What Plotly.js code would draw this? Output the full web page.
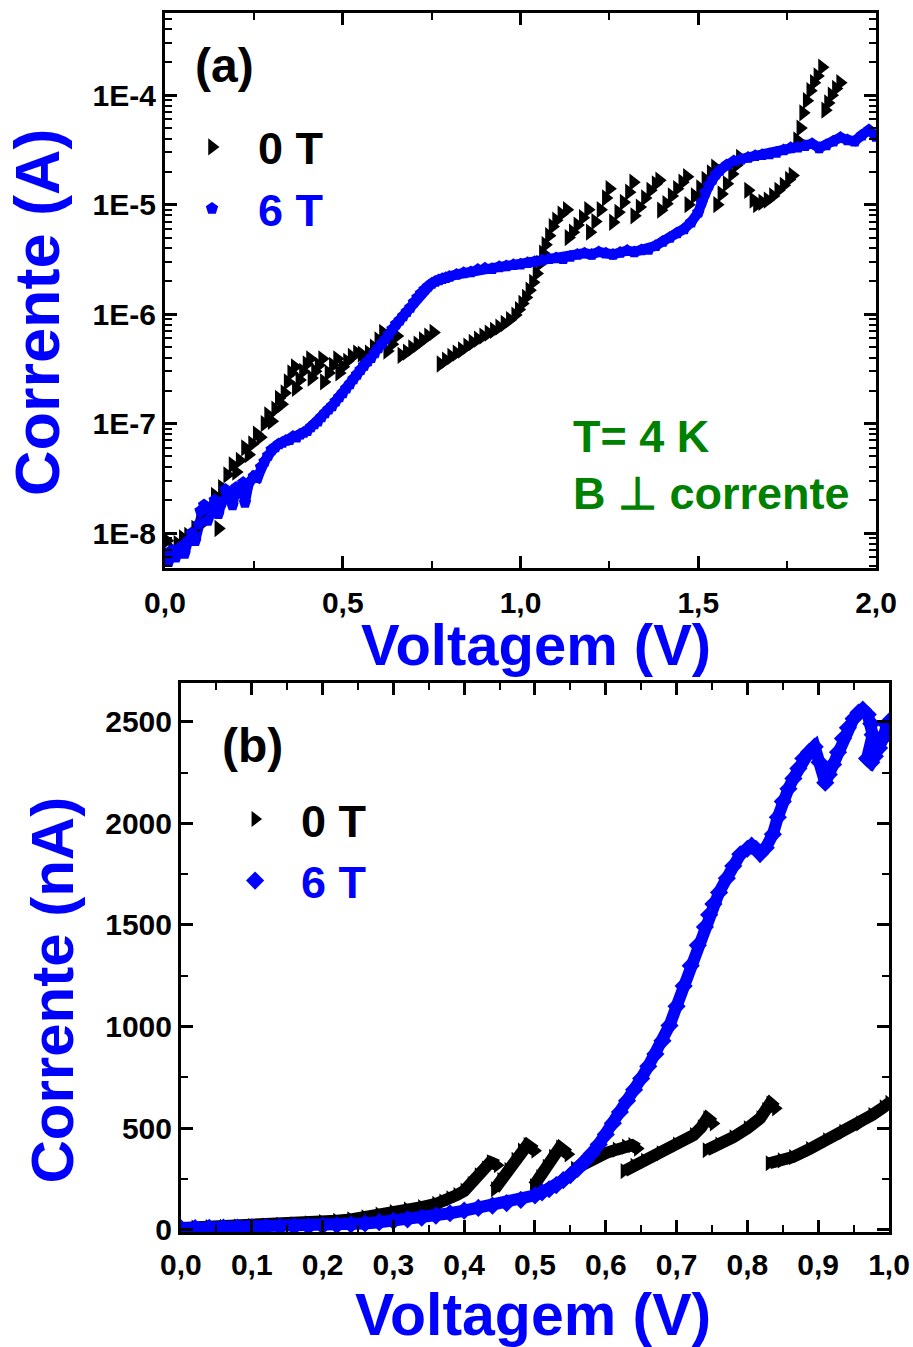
<!DOCTYPE html>
<html>
<head>
<meta charset="utf-8">
<script src="https://cdn.plot.ly/plotly-3.0.1.min.js"></script>
<style>html,body{margin:0;padding:0;background:#fff;}#chart{width:913px;height:1347px;}</style>
</head>
<body>
<div id="chart"></div>
<script>
// ---------- DATA (voltage V, current) ----------
const seriesNames = ['0 T', '6 T'];
const panelLabels = ['(a)', '(b)'];
const xTitle = 'Voltagem (V)';
const yTitleA = 'Corrente (A)';
const yTitleB = 'Corrente (nA)';
const tempLabel = 'T= 4 K';
const fieldLabel = 'B \u22A5 corrente';
const logTickVals = [1e-8, 1e-7, 1e-6, 1e-5, 1e-4];
const logTickText = ['1E-8', '1E-7', '1E-6', '1E-5', '1E-4'];

// Panel (a): current in A, log scale
const pointsA_0T = [
 [0.005,8.5e-9],[0.02,7e-9],[0.035,8e-9],[0.05,9e-9],[0.065,9.5e-9],[0.085,1.1e-8],[0.1,1.2e-8],[0.115,1.3e-8],
 [0.128,1.6e-8],[0.14,2.2e-8],[0.15,1.1e-8],[0.16,2.6e-8],[0.175,3.4e-8],[0.19,4.2e-8],[0.2,3.6e-8],[0.21,4.6e-8],
 [0.225,6e-8],[0.235,5.2e-8],[0.245,6.5e-8],[0.258,8e-8],[0.268,7.5e-8],[0.28,1.0e-7],[0.29,1.2e-7],[0.3,1.05e-7],
 [0.31,1.35e-7],[0.32,1.7e-7],[0.328,1.5e-7],[0.336,1.9e-7],[0.345,2.4e-7],[0.355,2.9e-7],[0.365,3.3e-7],
 [0.368,2.1e-7],[0.378,2.5e-7],[0.388,3.0e-7],[0.398,3.5e-7],[0.408,3.9e-7],
 [0.412,2.6e-7],[0.422,3.0e-7],[0.432,3.4e-7],[0.442,3.9e-7],
 [0.447,2.4e-7],[0.46,2.9e-7],[0.472,3.4e-7],[0.484,3.9e-7],
 [0.49,2.9e-7],[0.5,3.3e-7],[0.512,3.7e-7],[0.525,4.1e-7],[0.54,4.4e-7],[0.553,4.3e-7],
 [0.56,3.8e-7],[0.573,4.4e-7],[0.587,5.0e-7],[0.6,5.8e-7],[0.613,6.8e-7],
 [0.625,4.6e-7],[0.638,5.3e-7],[0.652,6.3e-7],
 [0.665,4.2e-7],[0.68,4.5e-7],[0.695,4.9e-7],[0.71,5.3e-7],[0.725,5.8e-7],[0.74,6.3e-7],[0.755,6.8e-7],
 [0.775,3.5e-7],[0.79,3.8e-7],[0.805,4.1e-7],[0.82,4.4e-7],[0.835,4.7e-7],[0.85,5.1e-7],[0.865,5.5e-7],
 [0.88,5.9e-7],[0.895,6.3e-7],[0.91,6.7e-7],[0.925,7.1e-7],[0.94,7.6e-7],[0.955,8.2e-7],[0.97,8.9e-7],
 [0.985,9.8e-7],[0.995,1.1e-6],[1.005,1.25e-6],[1.015,1.42e-6],[1.025,1.65e-6],[1.035,1.95e-6],[1.045,2.35e-6],
 [1.055,2.9e-6],[1.063,3.6e-6],[1.07,4.3e-6],[1.08,5.2e-6],[1.09,6.3e-6],[1.1,7.2e-6],[1.115,8.2e-6],[1.13,9.0e-6],
 [1.135,5.0e-6],[1.147,5.6e-6],[1.16,6.5e-6],[1.175,7.6e-6],[1.19,9.0e-6],
 [1.195,5.6e-6],[1.21,7.0e-6],[1.225,9.0e-6],[1.24,1.15e-5],[1.25,1.4e-5],
 [1.26,6.9e-6],[1.275,8.5e-6],[1.29,1.05e-5],[1.305,1.3e-5],[1.317,1.6e-5],
 [1.32,7.9e-6],[1.335,9.5e-6],[1.35,1.15e-5],[1.365,1.35e-5],[1.38,1.55e-5],[1.39,1.67e-5],
 [1.395,8.9e-6],[1.41,1.02e-5],[1.425,1.2e-5],[1.44,1.4e-5],[1.455,1.6e-5],[1.468,1.8e-5],
 [1.472,1.0e-5],[1.49,1.2e-5],[1.505,1.42e-5],[1.52,1.7e-5],[1.535,1.95e-5],[1.547,2.2e-5],
 [1.553,1.0e-5],[1.565,1.25e-5],[1.58,1.55e-5],[1.595,1.9e-5],[1.607,2.3e-5],[1.617,2.7e-5],
 [1.64,1.35e-5],[1.655,1.1e-5],[1.665,1.0e-5],[1.68,1.05e-5],[1.695,1.1e-5],[1.71,1.2e-5],[1.725,1.35e-5],
 [1.74,1.5e-5],[1.755,1.7e-5],[1.765,1.85e-5],[1.778,3.9e-5],[1.787,5.0e-5],[1.795,6.9e-5],[1.805,8.9e-5],
 [1.815,1.1e-4],[1.825,1.3e-4],[1.835,1.5e-4],[1.848,1.8e-4],
 [1.857,7.3e-5],[1.865,8.5e-5],[1.875,1.0e-4],[1.887,1.15e-4],[1.899,1.3e-4]
];

const pointsA_6T = [
 [0.0,6.5e-9],[0.01,5.5e-9],[0.02,7e-9],[0.03,6e-9],[0.045,7.5e-9],[0.055,6.5e-9],[0.065,8.5e-9],[0.075,1.0e-8],
 [0.085,8.5e-9],[0.095,1.2e-8],[0.1,1.6e-8],[0.11,1.8e-8],[0.12,1.3e-8],[0.13,1.6e-8],[0.14,2.0e-8],[0.15,1.5e-8],
 [0.16,1.9e-8],[0.17,2.5e-8],[0.18,2.2e-8],[0.19,1.8e-8],[0.2,2.6e-8],[0.21,2.3e-8],[0.22,2.9e-8],[0.225,1.9e-8],
 [0.235,2.8e-8],[0.25,3.3e-8],[0.26,3.2e-8],[0.27,4.0e-8],[0.28,4.5e-8],[0.29,5.1e-8],[0.3,5.8e-8],[0.31,6.1e-8],
 [0.32,6.5e-8],[0.33,6.7e-8],[0.34,7.0e-8],[0.35,7.1e-8],[0.36,7.6e-8],[0.37,7.5e-8],[0.38,8.0e-8],[0.39,8.3e-8],
 [0.4,8.6e-8],[0.41,9.3e-8],[0.42,9.9e-8],[0.43,1.05e-7],[0.44,1.15e-7],[0.45,1.25e-7],[0.46,1.35e-7],[0.47,1.45e-7],
 [0.48,1.6e-7],[0.49,1.75e-7],[0.5,1.9e-7],[0.51,2.1e-7],[0.52,2.3e-7],[0.53,2.55e-7],[0.54,2.8e-7],[0.55,3.1e-7],
 [0.56,3.4e-7],[0.57,3.7e-7],[0.58,4.0e-7],[0.59,4.4e-7],[0.6,4.9e-7],[0.61,5.4e-7],[0.62,5.9e-7],[0.63,6.5e-7],
 [0.64,7.3e-7],[0.65,8.1e-7],[0.66,8.8e-7],[0.67,9.6e-7],[0.68,1.05e-6],[0.69,1.15e-6],[0.7,1.28e-6],[0.71,1.42e-6],
 [0.72,1.55e-6],[0.73,1.68e-6],[0.74,1.8e-6],[0.75,1.9e-6],[0.76,1.98e-6],[0.77,2.05e-6],[0.78,2.1e-6],[0.79,2.15e-6],
 [0.8,2.2e-6],[0.82,2.3e-6],[0.84,2.38e-6],[0.86,2.42e-6],[0.88,2.55e-6],[0.9,2.62e-6],[0.92,2.6e-6],[0.94,2.7e-6],
 [0.96,2.75e-6],[0.98,2.82e-6],[1.0,2.85e-6],[1.02,2.95e-6],[1.04,3.0e-6],[1.06,3.1e-6],[1.08,3.2e-6],[1.1,3.25e-6],
 [1.12,3.2e-6],[1.14,3.35e-6],[1.16,3.5e-6],[1.18,3.6e-6],[1.2,3.5e-6],[1.22,3.7e-6],[1.24,3.6e-6],[1.26,3.5e-6],
 [1.28,3.65e-6],[1.3,3.8e-6],[1.32,3.7e-6],[1.34,3.85e-6],[1.36,3.9e-6],[1.38,4.2e-6],[1.4,4.6e-6],[1.42,5.0e-6],
 [1.44,5.5e-6],[1.46,6.0e-6],[1.48,6.9e-6],[1.5,8.5e-6],[1.51,1.05e-5],[1.52,1.3e-5],[1.53,1.5e-5],[1.54,1.7e-5],
 [1.55,1.9e-5],[1.56,2.05e-5],[1.58,2.3e-5],[1.6,2.5e-5],[1.62,2.6e-5],[1.64,2.7e-5],[1.66,2.8e-5],[1.68,2.85e-5],
 [1.7,2.9e-5],[1.72,3.0e-5],[1.74,3.15e-5],[1.76,3.3e-5],[1.78,3.35e-5],[1.8,3.45e-5],[1.82,3.6e-5],[1.84,3.3e-5],
 [1.86,3.5e-5],[1.88,3.8e-5],[1.9,4.1e-5],[1.92,3.9e-5],[1.94,3.8e-5],[1.96,4.3e-5],[1.98,4.8e-5],[2.0,4.2e-5]
];

// Panel (b): current in nA, linear scale (null = break between sawtooth branches)
const pointsB_0T = [
 [0.0,10],[0.02,12],[0.04,14],[0.06,15],[0.08,17],[0.1,19],[0.12,22],[0.14,25],[0.16,28],[0.18,32],[0.2,38],
 [0.22,45],[0.24,52],[0.26,62],[0.28,75],[0.3,88],[0.32,100],[0.34,112],[0.36,128],[0.37,140],[0.38,155],
 [0.39,172],[0.4,192],[0.41,225],[0.42,268],[0.43,302],[0.437,333],[0.447,318],
 [null,null],
 [0.443,200],[0.452,245],[0.462,295],[0.472,345],[0.481,390],[0.489,417],[0.5,390],
 [null,null],
 [0.498,215],[0.507,260],[0.516,310],[0.525,360],[0.535,405],[0.547,372],
 [null,null],
 [0.556,300],[0.57,330],[0.585,355],[0.6,378],[0.615,395],[0.628,410],[0.637,417],[0.645,400],
 [null,null],
 [0.626,289],[0.64,315],[0.655,340],[0.677,377],[0.7,420],[0.724,466],[0.735,505],[0.743,549],[0.752,524],
 [null,null],
 [0.742,392],[0.76,420],[0.78,456],[0.8,500],[0.818,549],[0.826,590],[0.832,622],[0.84,598],
 [null,null],
 [0.831,328],[0.848,342],[0.864,358],[0.888,398],[0.912,441],[0.935,482],[0.959,524],[0.976,565],[0.992,603],[1.0,625]
];

const pointsB_6T = [
 [0.0,8],[0.02,9],[0.04,10],[0.06,11],[0.08,12],[0.1,13],[0.12,14],[0.14,15],[0.16,16],[0.18,17],[0.2,20],
 [0.22,23],[0.24,27],[0.26,32],[0.28,38],[0.3,45],[0.32,52],[0.34,60],[0.36,70],[0.38,82],[0.4,95],[0.42,108],
 [0.44,120],[0.46,132],[0.48,148],[0.5,170],[0.51,185],[0.52,200],[0.53,220],[0.54,245],[0.55,270],[0.56,300],
 [0.57,335],[0.58,375],[0.59,420],[0.6,470],[0.61,525],[0.62,580],[0.63,635],[0.64,690],[0.65,745],[0.66,805],
 [0.67,865],[0.68,930],[0.69,1005],[0.7,1100],[0.71,1200],[0.72,1300],[0.73,1400],[0.74,1490],[0.746,1550],
 [0.752,1603],[0.76,1660],[0.771,1730],[0.78,1790],[0.79,1848],[0.8,1875],[0.806,1890],[0.812,1875],[0.818,1850],
 [0.826,1880],[0.836,1946],[0.843,2030],[0.85,2108],[0.858,2170],[0.865,2221],[0.872,2270],[0.879,2319],
 [0.887,2350],[0.895,2377],[0.902,2300],[0.91,2200],[0.915,2240],[0.921,2289],[0.928,2350],[0.935,2417],
 [0.942,2470],[0.95,2515],[0.957,2545],[0.963,2559],[0.97,2535],[0.975,2490],[0.977,2436],[0.969,2319],
 [0.975,2300],[0.98,2330],[0.986,2370],[0.992,2420],[0.997,2485],[1.0,2500]
];

// ---------- helpers ----------
const xs = p => p.map(d => d[0]);
const ys = p => p.map(d => d[1]);

const FONT = 'Arial, "Liberation Sans", sans-serif';
const BLUE = '#0000FF';
const GREEN = '#008000';

const minorLog = [];
for (let d = -9; d <= -4; d++) for (let k = 2; k <= 9; k++) minorLog.push(k * Math.pow(10, d));

const traces = [
 // panel (a)
 {x: xs(pointsA_6T), y: ys(pointsA_6T), xaxis:'x', yaxis:'y', mode:'lines', line:{color:BLUE, width:10},
  showlegend:false, hoverinfo:'skip'},
 {x: xs(pointsA_0T), y: ys(pointsA_0T), xaxis:'x', yaxis:'y', mode:'markers', name: seriesNames[0],
  legend:'legend', marker:{symbol:'triangle-right', size:15, color:'#000'}},
 {x: xs(pointsA_6T), y: ys(pointsA_6T), xaxis:'x', yaxis:'y', mode:'markers',
  name: '<span style="color:' + BLUE + '">' + seriesNames[1] + '</span>',
  legend:'legend', marker:{symbol:'pentagon', size:13, color:BLUE}},
 // panel (b)
 {x: xs(pointsB_0T), y: ys(pointsB_0T), xaxis:'x2', yaxis:'y2', mode:'lines', line:{color:'#000', width:12},
  connectgaps:false, showlegend:false, hoverinfo:'skip'},
 {x: xs(pointsB_0T), y: ys(pointsB_0T), xaxis:'x2', yaxis:'y2', mode:'markers', name: seriesNames[0],
  legend:'legend2', marker:{symbol:'triangle-right', size:14, color:'#000'}},
 {x: xs(pointsB_6T), y: ys(pointsB_6T), xaxis:'x2', yaxis:'y2', mode:'lines', line:{color:BLUE, width:12},
  showlegend:false, hoverinfo:'skip'},
 {x: xs(pointsB_6T), y: ys(pointsB_6T), xaxis:'x2', yaxis:'y2', mode:'markers',
  name: '<span style="color:' + BLUE + '">' + seriesNames[1] + '</span>',
  legend:'legend2', marker:{symbol:'diamond', size:14, color:BLUE}}
];

const tickFont = {family: FONT, size: 30, color:'#000', weight:'bold'};
const axisCommon = {
 showline:true, linewidth:3, linecolor:'#000', mirror:'ticks', ticks:'inside', ticklen:12, tickwidth:3,
 tickcolor:'#000', showgrid:false, zeroline:false, tickfont: tickFont, fixedrange:true
};
const ann = (text, x, y, size, color, extra) => Object.assign({
  text: text, xref:'paper', yref:'paper', x: x, y: y, xanchor:'center', yanchor:'middle', showarrow:false,
  font:{family:FONT, size:size, color:color, weight:'bold'}
}, extra || {});

const layout = {
 width: 913, height: 1347,
 margin: {l:0, r:0, t:0, b:0},
 paper_bgcolor:'#fff', plot_bgcolor:'#fff',
 separators: ',.',
 showlegend: true,
 xaxis: Object.assign({}, axisCommon, {
  domain:[0.1807, 0.9595], anchor:'y', range:[0, 2], dtick:0.5, tick0:0, tickformat:'.1f', ticklabelstandoff:6,
  minor:{dtick:0.25, ticks:'inside', ticklen:7, tickwidth:2, tickcolor:'#000'}
 }),
 yaxis: Object.assign({}, axisCommon, {
  domain:[0.5783, 0.9903], anchor:'x', type:'log', range:[-8.32, -3.25],
  tickmode:'array', tickvals: logTickVals, ticktext: logTickText,
  minor:{tickmode:'array', tickvals: minorLog, ticks:'inside', ticklen:7, tickwidth:2, tickcolor:'#000'}
 }),
 xaxis2: Object.assign({}, axisCommon, {
  domain:[0.1982, 0.9737], anchor:'y2', range:[0, 1.0], dtick:0.1, tick0:0, tickformat:'.1f', ticklabelstandoff:4,
  minor:{dtick:0.05, ticks:'inside', ticklen:7, tickwidth:2, tickcolor:'#000'}
 }),
 yaxis2: Object.assign({}, axisCommon, {
  domain:[0.0854, 0.4929], anchor:'x2', range:[-10, 2690], dtick:500, tick0:0,
  minor:{dtick:250, ticks:'inside', ticklen:7, tickwidth:2, tickcolor:'#000'}
 }),
 legend: {x:0.1818, y:0.9175, xanchor:'left', yanchor:'top', bgcolor:'rgba(0,0,0,0)', itemwidth:82,
  font:{family:FONT, size:45, color:'#000', weight:'bold'}},
 legend2: {x:0.229, y:0.4185, xanchor:'left', yanchor:'top', bgcolor:'rgba(0,0,0,0)', itemwidth:82,
  font:{family:FONT, size:45, color:'#000', weight:'bold'}},
 annotations: [
  // axis titles
  ann(xTitle, 0.5871, 0.5212, 58, BLUE),
  ann(yTitleA, 0.0405, 0.7684, 63, BLUE, {textangle:-90}),
  ann(xTitle, 0.5838, 0.0238, 59, BLUE),
  ann(yTitleB, 0.0575, 0.265, 60, BLUE, {textangle:-90}),
  // panel labels and notes
  ann(panelLabels[0], 0.2464, 0.9517, 48, '#000'),
  ann(tempLabel, 0.6254, 0.6756, 45, GREEN, {xanchor:'left'}),
  ann(fieldLabel, 0.6254, 0.634, 45, GREEN, {xanchor:'left'}),
  ann(panelLabels[1], 0.277, 0.4469, 48, '#000')
 ]
};

Plotly.newPlot('chart', traces, layout, {displayModeBar:false, staticPlot:true});
</script>
</body>
</html>
